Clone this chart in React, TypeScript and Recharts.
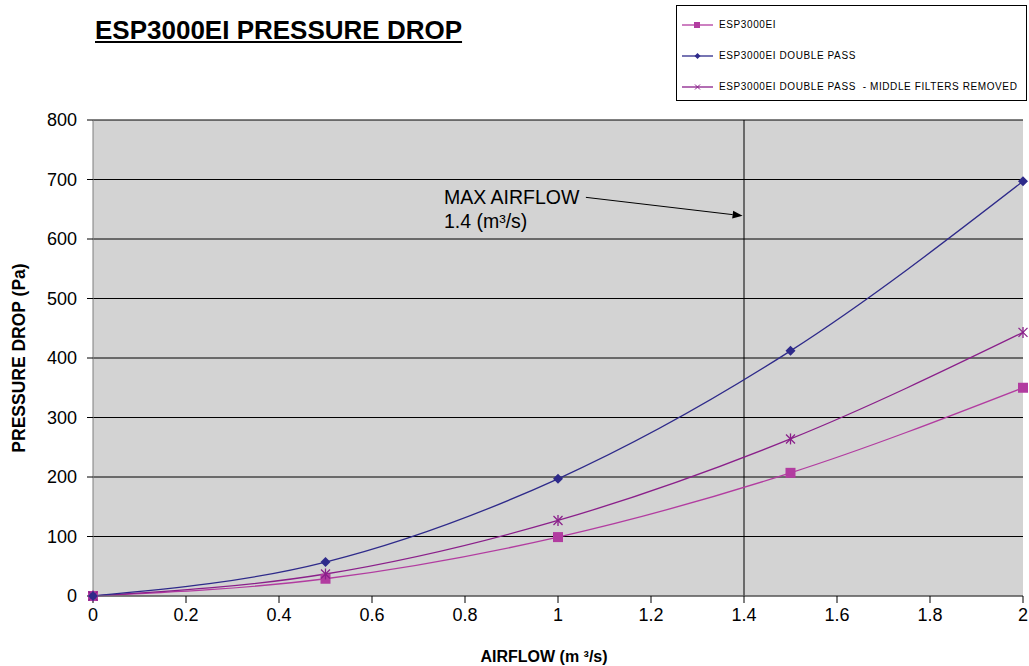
import * as React from "react";
import {
  LineChart,
  Line,
  XAxis,
  YAxis,
  CartesianGrid,
  ReferenceLine,
} from "recharts";

// ─── Data ────────────────────────────────────────────────────────────────────
const airflow = [0, 0.5, 1, 1.5, 2];
const esp = [0, 29, 99, 207, 350];
const doublePass = [0, 57, 197, 412, 697];
const middleRemoved = [0, 37, 127, 264, 443];

const xTicks = [0, 0.2, 0.4, 0.6, 0.8, 1, 1.2, 1.4, 1.6, 1.8, 2];
const yTicks = [0, 100, 200, 300, 400, 500, 600, 700, 800];
const maxAirflow = 1.4;

const FONT = "Arial, 'Liberation Sans', sans-serif";

const COLORS = {
  esp: "#b23ca0",
  doublePass: "#2e2a8a",
  middle: "#8a1f8a",
  plot: "#d3d3d3",
  axis: "#7f7f7f",
};

const data = airflow.map((x, i) => ({
  x,
  esp: esp[i],
  doublePass: doublePass[i],
  middle: middleRemoved[i],
}));

// ─── Markers ─────────────────────────────────────────────────────────────────

function SquareDot(props: any) {
  const { cx, cy } = props;
  if (cx == null || cy == null) return null;
  return <rect x={cx - 5} y={cy - 5} width={10} height={10} fill={COLORS.esp} />;
}

function DiamondDot(props: any) {
  const { cx, cy } = props;
  if (cx == null || cy == null) return null;
  return (
    <polygon
      points={`${cx},${cy - 5} ${cx + 5},${cy} ${cx},${cy + 5} ${cx - 5},${cy}`}
      fill={COLORS.doublePass}
    />
  );
}

function StarDot(props: any) {
  const { cx, cy } = props;
  if (cx == null || cy == null) return null;
  const r = 4.5;
  return (
    <g stroke={COLORS.middle} strokeWidth={1.3}>
      <line x1={cx - r} y1={cy - r} x2={cx + r} y2={cy + r} />
      <line x1={cx - r} y1={cy + r} x2={cx + r} y2={cy - r} />
      <line x1={cx} y1={cy - r - 1} x2={cx} y2={cy + r + 1} />
    </g>
  );
}

// ─── Legend ──────────────────────────────────────────────────────────────────

const legendItems = [
  { label: "ESP3000EI", color: COLORS.esp, marker: "square" },
  { label: "ESP3000EI DOUBLE PASS", color: COLORS.doublePass, marker: "diamond" },
  {
    label: "ESP3000EI DOUBLE PASS  - MIDDLE FILTERS REMOVED",
    color: COLORS.middle,
    marker: "star",
  },
];

function LegendBox() {
  return (
    <div
      style={{
        position: "absolute",
        left: 676,
        top: 5,
        width: 351,
        height: 96,
        border: "1px solid #000",
        background: "#fff",
        boxSizing: "border-box",
        fontFamily: FONT,
        fontSize: 10,
        color: "#000",
      }}
    >
      {legendItems.map((it, i) => (
        <div
          key={it.label}
          style={{
            position: "absolute",
            left: 5,
            top: 13 + i * 31,
            display: "flex",
            alignItems: "center",
            whiteSpace: "pre",
            letterSpacing: 0.6,
          }}
        >
          <svg width={32} height={10} style={{ marginRight: 5 }}>
            <line x1={0} y1={5} x2={31} y2={5} stroke={it.color} strokeWidth={1.3} />
            {it.marker === "square" && <rect x={12} y={2} width={6} height={6} fill={it.color} />}
            {it.marker === "diamond" && (
              <polygon points="15.5,2 18.5,5 15.5,8 12.5,5" fill={it.color} />
            )}
            {it.marker === "star" && (
              <g stroke={it.color} strokeWidth={1}>
                <line x1={13} y1={2.5} x2={18} y2={7.5} />
                <line x1={13} y1={7.5} x2={18} y2={2.5} />
              </g>
            )}
          </svg>
          {it.label}
        </div>
      ))}
    </div>
  );
}

// ─── Annotation arrow ────────────────────────────────────────────────────────

function ArrowShape(props: any) {
  const { x1, y1, x2, y2 } = props;
  if (x1 == null) return null;
  const ang = Math.atan2(y2 - y1, x2 - x1);
  const len = 10;
  const w = 4;
  const bx = x2 - len * Math.cos(ang);
  const by = y2 - len * Math.sin(ang);
  const px = -Math.sin(ang) * w;
  const py = Math.cos(ang) * w;
  return (
    <g>
      <line x1={x1} y1={y1} x2={bx} y2={by} stroke="#000" strokeWidth={1} />
      <polygon points={`${x2},${y2} ${bx + px},${by + py} ${bx - px},${by - py}`} fill="#000" />
      <text x={x1 - 142} y={y1 + 7} fontFamily={FONT} fontSize={19.5} fill="#000">
        MAX AIRFLOW
      </text>
      <text x={x1 - 142} y={y1 + 31} fontFamily={FONT} fontSize={19.5} fill="#000">
        1.4 (m³/s)
      </text>
    </g>
  );
}

// ─── Chart ───────────────────────────────────────────────────────────────────

export default function App() {
  return (
    <div style={{ position: "absolute", left: 0, top: 0, width: 1029, height: 666, background: "#fff" }}>
      <div
        style={{
          position: "absolute",
          left: 95,
          top: 15,
          fontFamily: FONT,
          fontWeight: "bold",
          fontSize: 26,
          textDecoration: "underline",
          color: "#000",
          zIndex: 2,
        }}
      >
        ESP3000EI PRESSURE DROP
      </div>
      <LegendBox />
      <LineChart
        width={1029}
        height={666}
        data={data}
        margin={{ top: 120, right: 6, bottom: 0, left: 2 }}
      >
        <CartesianGrid
          fill={COLORS.plot}
          stroke="#000"
          vertical={false}
          horizontalValues={yTicks}
        />
        <XAxis
          dataKey="x"
          type="number"
          domain={[0, 2]}
          ticks={xTicks}
          height={70}
          tickSize={7}
          tickMargin={5}
          stroke={COLORS.axis}
          tick={{ fill: "#000", fontFamily: FONT, fontSize: 18 }}
          tickLine={{ stroke: "#000" }}
          label={{
            value: "AIRFLOW (m ³/s)",
            position: "insideBottom",
            offset: 4,
            dx: -14,
            fill: "#000",
            fontFamily: FONT,
            fontSize: 16,
            fontWeight: "bold",
          }}
        />
        <YAxis
          type="number"
          domain={[0, 800]}
          ticks={yTicks}
          width={91}
          tickSize={6}
          tickMargin={10}
          stroke={COLORS.axis}
          tick={{ fill: "#000", fontFamily: FONT, fontSize: 18 }}
          tickLine={{ stroke: "#000" }}
          label={{
            value: "PRESSURE DROP (Pa)",
            angle: -90,
            position: "insideLeft",
            offset: 17,
            style: { textAnchor: "middle" },
            fill: "#000",
            fontFamily: FONT,
            fontSize: 17.5,
            fontWeight: "bold",
          }}
        />
        <ReferenceLine x={maxAirflow} stroke="#000" strokeWidth={1} ifOverflow="visible" />
        <ReferenceLine
          segment={[
            { x: 1.06, y: 670 },
            { x: 1.397, y: 639 },
          ]}
          shape={ArrowShape}
          ifOverflow="visible"
        />
        <Line
          type="monotone"
          dataKey="esp"
          name="ESP3000EI"
          stroke={COLORS.esp}
          strokeWidth={1.3}
          dot={<SquareDot />}
          isAnimationActive={false}
        />
        <Line
          type="monotone"
          dataKey="middle"
          name="ESP3000EI DOUBLE PASS  - MIDDLE FILTERS REMOVED"
          stroke={COLORS.middle}
          strokeWidth={1.3}
          dot={<StarDot />}
          isAnimationActive={false}
        />
        <Line
          type="monotone"
          dataKey="doublePass"
          name="ESP3000EI DOUBLE PASS"
          stroke={COLORS.doublePass}
          strokeWidth={1.3}
          dot={<DiamondDot />}
          isAnimationActive={false}
        />
      </LineChart>
    </div>
  );
}
